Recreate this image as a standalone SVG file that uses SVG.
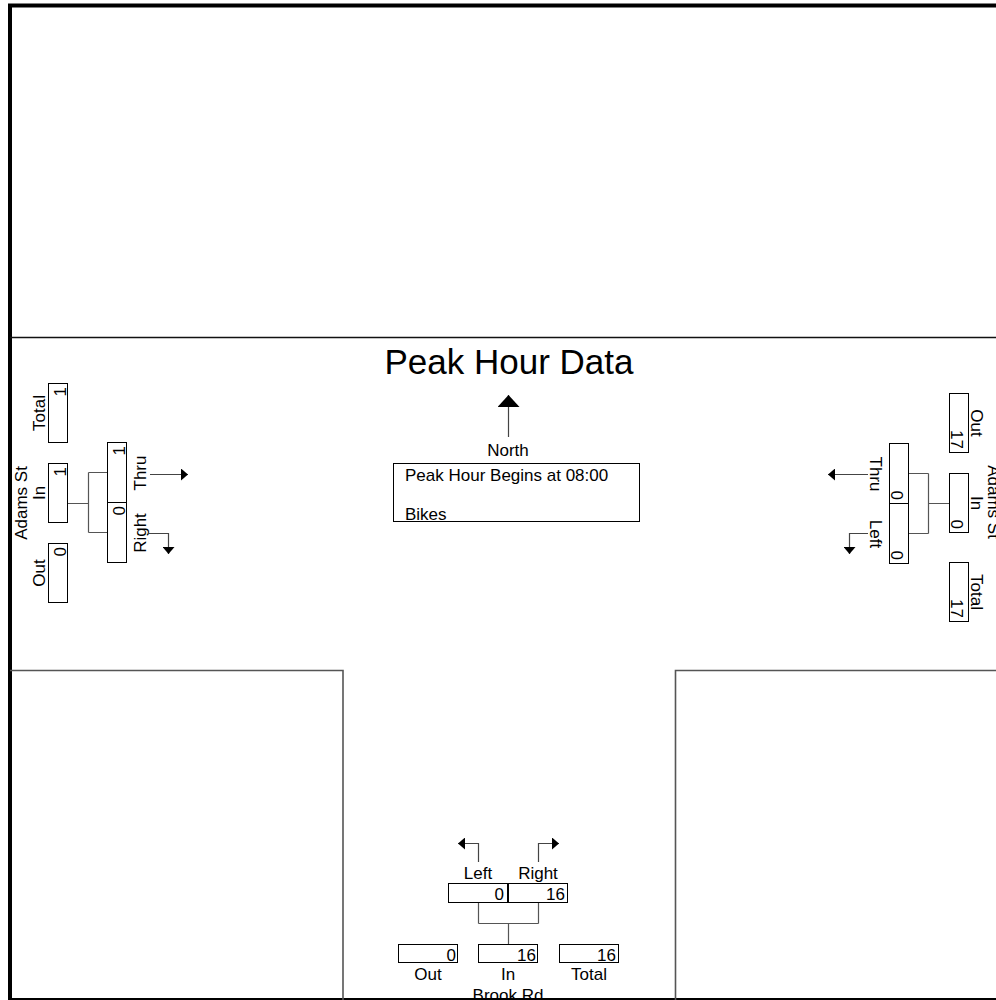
<svg xmlns="http://www.w3.org/2000/svg" width="996" height="1000" viewBox="0 0 996 1000">
<style>
text{font-family:"Liberation Sans",Arial,sans-serif;font-size:17px;fill:#000}
.box{fill:#fff;stroke:#000;stroke-width:1}
.con{fill:none;stroke:#555;stroke-width:1.2}
.arr{fill:none;stroke:#444;stroke-width:1.2}
.road{fill:none;stroke:#555;stroke-width:1.6}
.mid{text-anchor:middle}
.end{text-anchor:end}
</style>
<defs>
<marker id="ah" markerUnits="userSpaceOnUse" viewBox="0 0 7 12" refX="7" refY="6" markerWidth="7" markerHeight="12" orient="auto"><path d="M0,0 L7,6 L0,12 z" fill="#000"/></marker>
<marker id="ahN" markerUnits="userSpaceOnUse" viewBox="0 0 12 22" refX="12" refY="11" markerWidth="12" markerHeight="22" orient="auto"><path d="M0,0 L12,11 L0,22 z" fill="#000"/></marker>
</defs>
<rect width="996" height="1000" fill="#fff"/>
<g id="frame">
<rect x="10" y="5.5" width="990" height="994.5" fill="none" stroke="#000" stroke-width="4"/>
<line x1="10" y1="337.5" x2="996" y2="337.5" stroke="#111" stroke-width="1.3"/>
<path class="road" d="M10,670.5 H343 V1000"/>
<path class="road" d="M996,670.5 H675.5 V1000"/>
</g>
<g id="title"><text x="509" y="374" class="mid" style="font-size:35px">Peak Hour Data</text></g>
<g id="north">
<line x1="508.5" y1="437" x2="508.5" y2="395" class="arr" marker-end="url(#ahN)"/>
<text x="508" y="456" class="mid">North</text>
</g>
<g id="info">
<rect class="box" x="393.5" y="463.5" width="246" height="58"/>
<text x="405" y="481">Peak Hour Begins at 08:00</text>
<text x="405" y="520">Bikes</text>
</g>
<g id="connectors">
<path class="con" d="M68,503.5 H88.5 M88.5,472.5 V532.5 M88.5,472.5 H107.5 M88.5,532.5 H107.5"/>
<path class="con" d="M949,503.5 H928.5 M928.5,473.5 V533.5 M928.5,473.5 H908.5 M928.5,533.5 H908.5"/>
<path class="con" d="M478.5,902 V923.5 M538.5,902 V923.5 M478.5,923.5 H538.5 M508.5,923.5 V944"/>
</g>
<g id="west">
<rect class="box" x="48.5" y="383.5" width="19" height="59"/>
<rect class="box" x="48.5" y="463.5" width="19" height="59"/>
<rect class="box" x="48.5" y="543.5" width="19" height="59"/>
<text transform="translate(66,387) rotate(-90)" class="end">1</text>
<text transform="translate(66,467) rotate(-90)" class="end">1</text>
<text transform="translate(66,547) rotate(-90)" class="end">0</text>
<text transform="translate(45,413) rotate(-90)" class="mid">Total</text>
<text transform="translate(45,493) rotate(-90)" class="mid">In</text>
<text transform="translate(45,573) rotate(-90)" class="mid">Out</text>
<text transform="translate(27,503) rotate(-90)" class="mid">Adams St</text>
</g>
<g id="west-moves">
<rect class="box" x="107.5" y="442.5" width="19" height="60"/>
<rect class="box" x="107.5" y="502.5" width="19" height="60"/>
<text transform="translate(125,446) rotate(-90)" class="end">1</text>
<text transform="translate(125,506) rotate(-90)" class="end">0</text>
<text transform="translate(146,473) rotate(-90)" class="mid">Thru</text>
<text transform="translate(146,533) rotate(-90)" class="mid">Right</text>
<line x1="150" y1="474.5" x2="188" y2="474.5" class="arr" marker-end="url(#ah)"/>
<polyline points="148,533.5 168.5,533.5 168.5,554" class="arr" marker-end="url(#ah)"/>
</g>
<g id="east">
<rect class="box" x="949.5" y="393.5" width="19" height="59"/>
<rect class="box" x="949.5" y="473.5" width="19" height="59"/>
<rect class="box" x="949.5" y="562.5" width="19" height="59"/>
<text transform="translate(951,449) rotate(90)" class="end">17</text>
<text transform="translate(951,529) rotate(90)" class="end">0</text>
<text transform="translate(951,618) rotate(90)" class="end">17</text>
<text transform="translate(971,423) rotate(90)" class="mid">Out</text>
<text transform="translate(971,503) rotate(90)" class="mid">In</text>
<text transform="translate(971,592) rotate(90)" class="mid">Total</text>
<text transform="translate(988,502) rotate(90)" class="mid">Adams St</text>
</g>
<g id="east-moves">
<rect class="box" x="889.5" y="443.5" width="19" height="60"/>
<rect class="box" x="889.5" y="503.5" width="19" height="60"/>
<text transform="translate(891,500) rotate(90)" class="end">0</text>
<text transform="translate(891,560) rotate(90)" class="end">0</text>
<text transform="translate(870,474) rotate(90)" class="mid">Thru</text>
<text transform="translate(870,534) rotate(90)" class="mid">Left</text>
<line x1="868" y1="474.5" x2="828" y2="474.5" class="arr" marker-end="url(#ah)"/>
<polyline points="868,533.5 849.5,533.5 849.5,554" class="arr" marker-end="url(#ah)"/>
</g>
<g id="south-moves">
<rect class="box" x="448.5" y="883.5" width="59" height="19"/>
<rect class="box" x="508.5" y="883.5" width="59" height="19"/>
<text x="504" y="900" class="end">0</text>
<text x="565" y="900" class="end">16</text>
<text x="478" y="879" class="mid">Left</text>
<text x="538" y="879" class="mid">Right</text>
<polyline points="478.5,862 478.5,843.5 458,843.5" class="arr" marker-end="url(#ah)"/>
<polyline points="538.5,862 538.5,843.5 559,843.5" class="arr" marker-end="url(#ah)"/>
</g>
<g id="south">
<rect class="box" x="398.5" y="944.5" width="59" height="18"/>
<rect class="box" x="478.5" y="944.5" width="59" height="18"/>
<rect class="box" x="559.5" y="944.5" width="59" height="18"/>
<text x="456" y="961" class="end">0</text>
<text x="536" y="961" class="end">16</text>
<text x="616" y="961" class="end">16</text>
<text x="428" y="980" class="mid">Out</text>
<text x="508" y="980" class="mid">In</text>
<text x="589" y="980" class="mid">Total</text>
<text x="508" y="1001" class="mid">Brook Rd</text>
</g>
</svg>
